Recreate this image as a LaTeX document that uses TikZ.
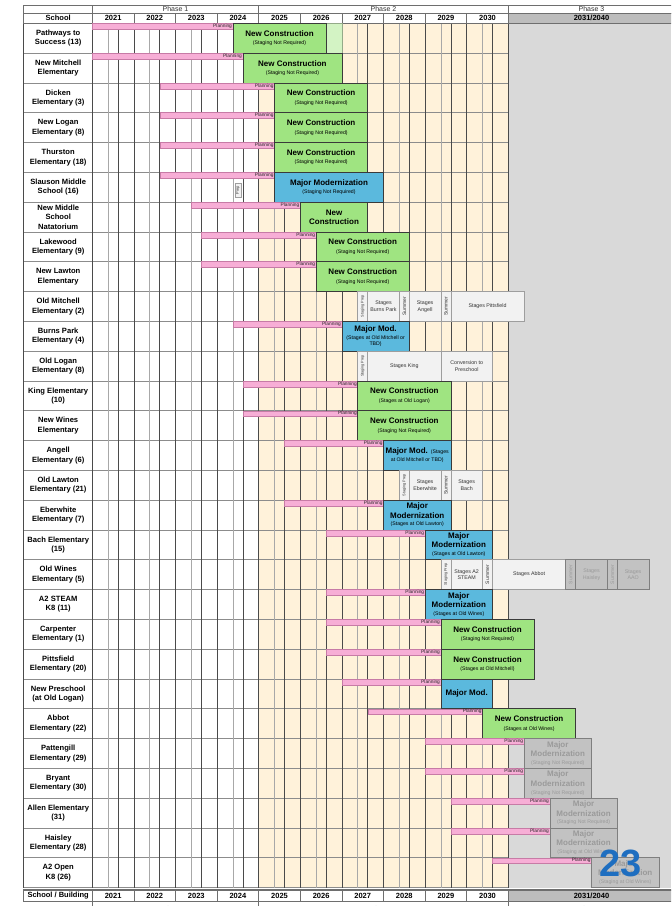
\documentclass[tikz,border=0pt]{standalone}
\usepackage{fontspec}
\setmainfont{Liberation Sans}
\usepackage{xcolor}
\usepackage{tikz}
\usetikzlibrary{calc}
\definecolor{planpink}{HTML}{F7AED6}
\definecolor{planedge}{HTML}{C77BA6}
\definecolor{newgreen}{HTML}{9FE481}
\definecolor{palegreen}{HTML}{D3F3C4}
\definecolor{modblue}{HTML}{5BB9DD}
\definecolor{boxedge}{HTML}{3A3A3A}
\definecolor{phasecream}{HTML}{FFF2DA}
\definecolor{phasegray}{HTML}{D9D9D9}
\definecolor{hdgray}{HTML}{BDBDBD}
\definecolor{stagefill}{HTML}{F2F2F2}
\definecolor{stageedge}{HTML}{9E9E9E}
\definecolor{laterfill}{HTML}{C2C2C2}
\definecolor{lateredge}{HTML}{7F7F7F}
\definecolor{latertext}{HTML}{9A9A9A}
\definecolor{gridyr}{HTML}{4A4A4A}
\definecolor{gridsub}{HTML}{A8A8A8}
\definecolor{gridrow}{HTML}{8C8C8C}
\definecolor{hdline}{HTML}{6E6E6E}
\definecolor{pageblue}{HTML}{1E6EC0}
\newcommand{\subtxt}[1]{{\mdseries\fontsize{5.2}{6.2}\selectfont #1}}
\tikzset{
  school/.style={font=\bfseries\fontsize{7.6}{9.4}\selectfont, align=center, inner sep=0pt},
  boxtitle/.style={font=\bfseries\fontsize{8}{9.4}\selectfont, align=center, inner sep=0pt},
  planlab/.style={font=\fontsize{4.8}{5}\selectfont, anchor=east, inner sep=0.8pt, text=black!85},
  stagetxt/.style={font=\fontsize{5.3}{6.6}\selectfont, align=center, text=black!80, inner sep=0pt},
  latertxt/.style={stagetxt, text=latertext},
  vtxt/.style={font=\fontsize{5}{5.5}\selectfont, rotate=90, text=black!80, inner sep=0pt},
  vtiny/.style={vtxt, font=\fontsize{3.8}{4.2}\selectfont},
  hdphase/.style={font=\fontsize{7}{8}\selectfont, text=black!80},
  hdyear/.style={font=\bfseries\fontsize{7.5}{8}\selectfont},
  hdcell/.style={draw=hdline, line width=0.6pt},
  planbar/.style={fill=planpink, draw=planedge, line width=0.4pt},
  newbox/.style={fill=newgreen, draw=boxedge, line width=0.7pt},
  modbox/.style={fill=modblue, draw=boxedge, line width=0.7pt},
  laterbox/.style={fill=laterfill, draw=lateredge, line width=0.7pt},
  stagebox/.style={fill=stagefill, draw=stageedge, line width=0.5pt},
  darkstage/.style={fill=laterfill, draw=lateredge, line width=0.5pt},
  yrline/.style={draw=gridyr, line width=0.6pt},
  subline/.style={draw=gridsub, line width=0.5pt},
  rowsep/.style={draw=gridrow, line width=0.5pt}
}
\newcommand{\planbar}[3]{%
  \path[planbar] (#2,#1) rectangle (#3,#1+0.2);
  \node[planlab] (plan-#1) at (#3,#1+0.1) {Planning};}
\newcommand{\workbox}[6][]{%
  \path[#5] (#3,#2) rectangle (#4,#2+1);
  \node[boxtitle,#1] (work-#2) at ({(#3+#4)/2},#2+0.5) {#6};}
\newcommand{\stagecell}[7]{%
  \path[#5] (#3,#2) rectangle (#4,#2+1);
  \node[#6] (#1) at ({(#3+#4)/2},#2+0.5) {#7};}

\begin{document}
\begin{tikzpicture}[x=41.6pt, y=-29.8pt]
  \useasboundingbox (-2.219,-0.782) rectangle (13.911,29.621);
  \clip (-2.219,-0.782) rectangle (13.911,29.621);
  \fill[white] (-2.219,-0.782) rectangle (13.911,29.621);
  \fill[phasecream] (4,0) rectangle (10,29);
  \fill[phasegray] (10,0) rectangle (13.911,29);

  \foreach \r in {0,...,29} \draw[rowsep] (-1.666,\r) -- (10,\r);
  \foreach \k in {0,...,9} {
    \draw[subline] (\k+0.38,0) -- (\k+0.38,29);
    \draw[yrline] (\k+0.62,0) -- (\k+0.62,29);
    \draw[yrline] (\k,0) -- (\k,29);
  }
  \draw[yrline] (10,0) -- (10,29);
  \draw[yrline] (-1.666,0) -- (-1.666,29);

  \draw[hdcell] (-1.666,-0.614) rectangle (13.95,-0.336);
  \draw[hdcell] (0,-0.614) -- (0,-0.336) (4,-0.614) -- (4,-0.336) (10,-0.614) -- (10,-0.336);
  \node[hdphase] (phase1) at (2,-0.475) {Phase 1};
  \node[hdphase] (phase2) at (7,-0.475) {Phase 2};
  \node[hdphase] (phase3) at (12,-0.475) {Phase 3};
  \draw[hdcell] (-1.666,-0.336) rectangle (0,0);
  \node[hdyear] (school-hd) at (-0.82,-0.168) {School};
  \foreach \yr [count=\k from 0] in {2021,...,2030} {
    \draw[hdcell] (\k,-0.336) rectangle (\k+1,0);
    \node[hdyear] (top-\yr) at (\k+0.5,-0.168) {\yr};
  }
  \path[hdcell, fill=hdgray] (10,-0.336) rectangle (13.95,0);
  \node[hdyear] (top-later) at (12,-0.168) {2031/2040};

  \foreach \lab [count=\i from 0] in {{Pathways to\\Success (13)}, {New Mitchell\\Elementary},
      {Dicken\\Elementary (3)}, {New Logan\\Elementary (8)}, {Thurston\\Elementary (18)},
      {Slauson Middle\\School (16)}, {New Middle\\School\\Natatorium}, {Lakewood\\Elementary (9)},
      {New Lawton\\Elementary}, {Old Mitchell\\Elementary (2)}, {Burns Park\\Elementary (4)},
      {Old Logan\\Elementary (8)}, {King Elementary\\(10)}, {New Wines\\Elementary},
      {Angell\\Elementary (6)}, {Old Lawton\\Elementary (21)}, {Eberwhite\\Elementary (7)},
      {Bach Elementary\\(15)}, {Old Wines\\Elementary (5)}, {A2 STEAM\\K8 (11)},
      {Carpenter\\Elementary (1)}, {Pittsfield\\Elementary (20)}, {New Preschool\\(at Old Logan)},
      {Abbot\\Elementary (22)}, {Pattengill\\Elementary (29)}, {Bryant\\Elementary (30)},
      {Allen Elementary\\(31)}, {Haisley\\Elementary (28)}, {A2 Open\\K8 (26)}}
    \node[school] (school-\i) at (-0.82,\i+0.5) {\lab};

  \planbar{0}{0}{3.38}
  \path[fill=palegreen, draw=palegreen!70!black] (5.62,0) rectangle (6,1);
  \workbox{0}{3.38}{5.62}{newbox}{New Construction\\[-1pt]\subtxt{(Staging Not Required)}}
  \planbar{1}{0}{3.62}
  \workbox{1}{3.62}{6}{newbox}{New Construction\\[-1pt]\subtxt{(Staging Not Required)}}
  \planbar{2}{1.62}{4.38}
  \workbox{2}{4.38}{6.62}{newbox}{New Construction\\[-1pt]\subtxt{(Staging Not Required)}}
  \planbar{3}{1.62}{4.38}
  \workbox{3}{4.38}{6.62}{newbox}{New Construction\\[-1pt]\subtxt{(Staging Not Required)}}
  \planbar{4}{1.62}{4.38}
  \workbox{4}{4.38}{6.62}{newbox}{New Construction\\[-1pt]\subtxt{(Staging Not Required)}}
  \planbar{5}{1.62}{4.38}
  \path[stagebox] (3.43,5.37) rectangle (3.57,5.84);
  \node[vtxt, font=\fontsize{4}{4.5}\selectfont] (sl-prep) at (3.5,5.605) {Prep};
  \workbox{5}{4.38}{7}{modbox}{Major Modernization\\[-1pt]\subtxt{(Staging Not Required)}}
  \planbar{6}{2.38}{5}
  \workbox{6}{5}{6.62}{newbox}{New\\Construction}
  \planbar{7}{2.62}{5.38}
  \workbox{7}{5.38}{7.62}{newbox}{New Construction\\[-1pt]\subtxt{(Staging Not Required)}}
  \planbar{8}{2.62}{5.38}
  \workbox{8}{5.38}{7.62}{newbox}{New Construction\\[-1pt]\subtxt{(Staging Not Required)}}

  \stagecell{om-prep}{9}{6.38}{6.62}{stagebox}{vtiny}{Staging Prep}
  \stagecell{om-burns}{9}{6.62}{7.38}{stagebox}{stagetxt}{Stages\\Burns Park}
  \stagecell{om-sum1}{9}{7.38}{7.62}{stagebox}{vtxt}{Summer}
  \stagecell{om-angell}{9}{7.62}{8.38}{stagebox}{stagetxt}{Stages\\Angell}
  \stagecell{om-sum2}{9}{8.38}{8.62}{stagebox}{vtxt}{Summer}
  \stagecell{om-pitts}{9}{8.62}{10.38}{stagebox}{stagetxt}{Stages Pittsfield}
  \planbar{10}{3.38}{6}
  \workbox{10}{6}{7.62}{modbox}{Major Mod.\\[-1.4pt]\subtxt{(Stages at Old Mitchell or}\\[-2.6pt]\subtxt{TBD)}}
  \stagecell{ol-prep}{11}{6.38}{6.62}{stagebox}{vtiny}{Staging Prep}
  \stagecell{ol-king}{11}{6.62}{8.38}{stagebox}{stagetxt}{Stages King}
  \stagecell{ol-conv}{11}{8.38}{9.62}{stagebox}{stagetxt}{Conversion to\\Preschool}
  \planbar{12}{3.62}{6.38}
  \workbox{12}{6.38}{8.62}{newbox}{New Construction\\[-1pt]\subtxt{(Stages at Old Logan)}}
  \planbar{13}{3.62}{6.38}
  \workbox{13}{6.38}{8.62}{newbox}{New Construction\\[-1pt]\subtxt{(Staging Not Required)}}
  \planbar{14}{4.62}{7}
  \workbox{14}{7}{8.62}{modbox}{Major Mod. \subtxt{(Stages}\\[-1pt]\subtxt{at Old Mitchell or TBD)}}
  \stagecell{olw-prep}{15}{7.38}{7.62}{stagebox}{vtiny}{Staging Prep}
  \stagecell{olw-eber}{15}{7.62}{8.38}{stagebox}{stagetxt}{Stages\\Eberwhite}
  \stagecell{olw-sum}{15}{8.38}{8.62}{stagebox}{vtxt}{Summer}
  \stagecell{olw-bach}{15}{8.62}{9.38}{stagebox}{stagetxt}{Stages\\Bach}
  \planbar{16}{4.62}{7}
  \workbox{16}{7}{8.62}{modbox}{Major\\Modernization\\[-1.6pt]\subtxt{(Stages at Old Lawton)}}
  \planbar{17}{5.62}{8}
  \workbox{17}{8}{9.62}{modbox}{Major\\Modernization\\[-1.6pt]\subtxt{(Stages at Old Lawton)}}
  \stagecell{ow-prep}{18}{8.38}{8.62}{stagebox}{vtiny}{Staging Prep}
  \stagecell{ow-steam}{18}{8.62}{9.38}{stagebox}{stagetxt}{Stages A2\\STEAM}
  \stagecell{ow-sum1}{18}{9.38}{9.62}{stagebox}{vtxt}{Summer}
  \stagecell{ow-abbot}{18}{9.62}{11.38}{stagebox}{stagetxt}{Stages Abbot}
  \stagecell{ow-sum2}{18}{11.38}{11.62}{darkstage}{vtxt,text=latertext}{Summer}
  \stagecell{ow-haisley}{18}{11.62}{12.38}{darkstage}{latertxt}{Stages\\Haisley}
  \stagecell{ow-sum3}{18}{12.38}{12.62}{darkstage}{vtxt,text=latertext}{Summer}
  \stagecell{ow-aao}{18}{12.62}{13.38}{darkstage}{latertxt}{Stages\\AAO}
  \planbar{19}{5.62}{8}
  \workbox{19}{8}{9.62}{modbox}{Major\\Modernization\\[-1.6pt]\subtxt{(Stages at Old Wines)}}
  \planbar{20}{5.62}{8.38}
  \workbox{20}{8.38}{10.62}{newbox}{New Construction\\[-1pt]\subtxt{(Staging Not Required)}}
  \planbar{21}{5.62}{8.38}
  \workbox{21}{8.38}{10.62}{newbox}{New Construction\\[-1pt]\subtxt{(Stages at Old Mitchell)}}
  \planbar{22}{6}{8.38}
  \workbox{22}{8.38}{9.62}{modbox}{Major Mod.}
  \planbar{23}{6.62}{9.38}
  \workbox{23}{9.38}{11.62}{newbox}{New Construction\\[-1pt]\subtxt{(Stages at Old Wines)}}
  \planbar{24}{8}{10.38}
  \workbox[text=latertext]{24}{10.38}{12}{laterbox}{Major\\Modernization\\[-1.6pt]\subtxt{(Staging Not Required)}}
  \planbar{25}{8}{10.38}
  \workbox[text=latertext]{25}{10.38}{12}{laterbox}{Major\\Modernization\\[-1.6pt]\subtxt{(Staging Not Required)}}
  \planbar{26}{8.62}{11}
  \workbox[text=latertext]{26}{11}{12.62}{laterbox}{Major\\Modernization\\[-1.6pt]\subtxt{(Staging Not Required)}}
  \planbar{27}{8.62}{11}
  \workbox[text=latertext]{27}{11}{12.62}{laterbox}{Major\\Modernization\\[-1.6pt]\subtxt{(Staging at Old Wines)}}
  \planbar{28}{9.62}{12}
  \workbox[text=latertext]{28}{12}{13.62}{laterbox}{Major\\Modernization\\[-1.6pt]\subtxt{(Staging at Old Wines)}}
  \node[font=\bfseries\fontsize{38}{38}\selectfont, text=pageblue, inner sep=0pt] (pagenum) at (12.69,28.19) {23};

  \draw[hdcell] (-1.666,29.05) -- (13.95,29.05);
  \draw[hdcell] (-1.666,29.1) rectangle (0,29.45);
  \node[hdyear] (school-ft) at (-0.82,29.275) {School / Building};
  \foreach \yr [count=\k from 0] in {2021,...,2030} {
    \draw[hdcell] (\k,29.1) rectangle (\k+1,29.45);
    \node[hdyear] (bot-\yr) at (\k+0.5,29.275) {\yr};
  }
  \path[hdcell, fill=hdgray] (10,29.1) rectangle (13.95,29.45);
  \node[hdyear] (bot-later) at (12,29.275) {2031/2040};
  \draw[hdcell] (0,29.45) -- (0,29.8) (4,29.45) -- (4,29.8) (10,29.45) -- (10,29.8);
  \node[hdphase] (phase1-ft) at (2,29.72) {Phase 1};
  \node[hdphase] (phase2-ft) at (7,29.72) {Phase 2};
  \node[hdphase] (phase3-ft) at (12,29.72) {Phase 3};
\end{tikzpicture}
\end{document}
